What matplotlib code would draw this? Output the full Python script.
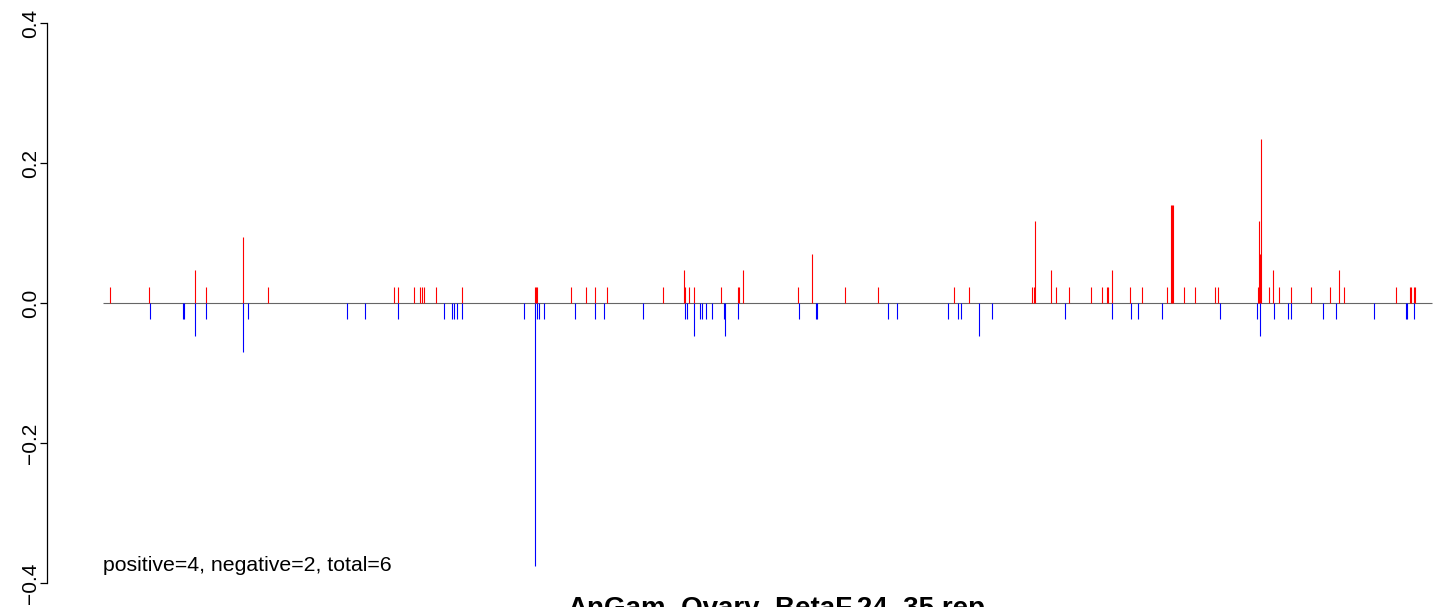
import matplotlib
matplotlib.use("Agg")
import matplotlib.pyplot as plt

plt.rcParams['font.family'] = ['Liberation Sans', 'DejaVu Sans']

# positions along the rep and their scores
pos_x = [110, 149, 195, 206, 243, 268,
         394, 398, 414, 420, 422, 424, 436, 462,
         535, 536, 537, 571, 586, 595, 607, 663,
         684, 685, 689, 694, 721, 738, 739, 743,
         798, 812, 845, 878, 954, 969,
         1032, 1034, 1035, 1051, 1056, 1069, 1091, 1102, 1107, 1108,
         1112, 1130, 1142, 1167, 1171, 1172, 1173,
         1184, 1195, 1215, 1218, 1258, 1259, 1260, 1261,
         1269, 1273, 1279, 1291, 1311, 1330, 1339, 1344, 1396,
         1410, 1411, 1413.5, 1414.5]
pos_y = [0.0234, 0.0234, 0.0469, 0.0234, 0.0938, 0.0234,
         0.0234, 0.0234, 0.0234, 0.0234, 0.0234, 0.0234, 0.0234, 0.0234,
         0.0234, 0.0234, 0.0234, 0.0234, 0.0234, 0.0234, 0.0234, 0.0234,
         0.0469, 0.0234, 0.0234, 0.0234, 0.0234, 0.0234, 0.0234, 0.0469,
         0.0234, 0.0703, 0.0234, 0.0234, 0.0234, 0.0234,
         0.0234, 0.0234, 0.1172, 0.0469, 0.0234, 0.0234, 0.0234, 0.0234, 0.0234, 0.0234,
         0.0469, 0.0234, 0.0234, 0.0234, 0.1406, 0.1406, 0.1406,
         0.0234, 0.0234, 0.0234, 0.0234, 0.0234, 0.1172, 0.0703, 0.2344,
         0.0234, 0.0469, 0.0234, 0.0234, 0.0234, 0.0234, 0.0469, 0.0234, 0.0234,
         0.0234, 0.0234, 0.0234, 0.0234]

neg_x = [150, 183, 184, 195, 206, 243, 248,
         347, 365, 398, 444, 452, 454, 457, 462,
         524, 535.3, 537, 539, 544, 575,
         595, 604, 643, 685, 687, 694,
         700, 702, 706, 712, 724, 725,
         738, 799, 815.5, 816.5, 888, 897, 948, 958, 961, 979,
         992, 1065, 1112, 1131, 1138, 1162, 1220, 1257, 1260,
         1274, 1288, 1291, 1323, 1336, 1374, 1405.5, 1406.5, 1414]
neg_y = [-0.0234, -0.0234, -0.0234, -0.0469, -0.0234, -0.0703, -0.0234,
         -0.0234, -0.0234, -0.0234, -0.0234, -0.0234, -0.0234, -0.0234, -0.0234,
         -0.0234, -0.375, -0.0234, -0.0234, -0.0234, -0.0234,
         -0.0234, -0.0234, -0.0234, -0.0234, -0.0234, -0.0469,
         -0.0234, -0.0234, -0.0234, -0.0234, -0.0234, -0.0469,
         -0.0234, -0.0234, -0.0234, -0.0234, -0.0234, -0.0234, -0.0234, -0.0234, -0.0234, -0.0469,
         -0.0234, -0.0234, -0.0234, -0.0234, -0.0234, -0.0234, -0.0234, -0.0234, -0.0469,
         -0.0234, -0.0234, -0.0234, -0.0234, -0.0234, -0.0234, -0.0234, -0.0234, -0.0234]

span = [103, 1432]          # first / last position of the rep
yticks = [-0.4, -0.2, 0.0, 0.2, 0.4]
ytick_labels = ['\u22120.4', '\u22120.2', '0.0', '0.2', '0.4']
title = "AnGam_Ovary_BetaF.24_35.rep"
note = "positive=4, negative=2, total=6"

W, H = 1433, 607
fig = plt.figure(figsize=(W / 100, H / 100), dpi=100)
ax = fig.add_axes([47 / W, 0, 1 - 47 / W, 1])
ax.set_xlim(47, 1433)
ax.set_ylim(-0.4 - 24 / 700, 0.4 + 23 / 700)

ax.hlines(0, span[0], span[1], color='#666666', lw=0.8, zorder=1)
ax.vlines(pos_x, 0, pos_y, color='#ff0000', lw=0.8, zorder=2)
ax.vlines(neg_x, 0, neg_y, color='#0000ff', lw=0.8, zorder=2)

for s in ['top', 'right', 'bottom']:
    ax.spines[s].set_visible(False)
ax.spines['left'].set_bounds(-0.4, 0.4)
ax.spines['left'].set_linewidth(0.9)
ax.set_xticks([])
ax.set_yticks(yticks)
ax.set_yticklabels(ytick_labels, rotation=90, va='center', fontsize=15)
ax.tick_params(axis='y', length=5, width=0.9, pad=0)

ax.text(span[0], -0.3743, note, fontsize=15.3, ha='left', va='center')
fig.text(776 / W, -0.015, title, fontsize=20, fontweight='bold',
         ha='center', va='baseline')

fig.savefig("out.png", dpi=100)
